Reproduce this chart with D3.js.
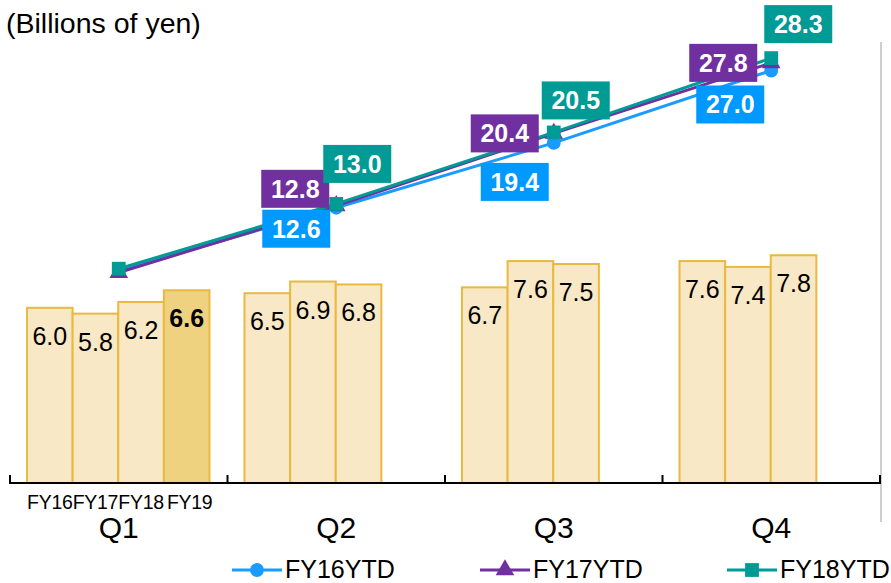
<!DOCTYPE html>
<html>
<head>
<meta charset="utf-8">
<script src="https://cdn.jsdelivr.net/npm/d3@7"></script>
<style>
  body { margin: 0; background: #fff; }
  svg { display: block; font-family: "Liberation Sans", Arial, sans-serif; }
</style>
</head>
<body>
<div id="chart"></div>
<script>
// categories
var quarters = ["Q1", "Q2", "Q3", "Q4"];
var years = ["FY16", "FY17", "FY18", "FY19"];

// quarterly values (bars), billions of yen
var fy16 = [6.0, 6.5, 6.7, 7.6];
var fy17 = [5.8, 6.9, 7.6, 7.4];
var fy18 = [6.2, 6.8, 7.5, 7.8];
var fy19 = [6.6];

// year to date values (lines)
var fy16ytd = [6.0, 12.6, 19.4, 27.0];
var fy17ytd = [5.8, 12.8, 20.4, 27.8];
var fy18ytd = [6.2, 13.0, 20.5, 28.3];

var W = 891, H = 583;
var svg = d3.select("#chart").append("svg")
  .attr("width", W).attr("height", H);

var x = d3.scaleBand().domain(quarters).range([10, 880]);
var xIn = d3.scaleBand().domain(years).range([17, 199.5]);
var yBar = d3.scaleLinear().domain([0, 10]).range([483, 191]);
var yLine = d3.scaleLinear().domain([0, 30]).range([327.8, 41.9]);

var barSeries = [fy16, fy17, fy18, fy19];
var bars = [];
barSeries.forEach(function(vals, i){
  vals.forEach(function(v, q){
    bars.push({year: years[i], q: quarters[q], v: v});
  });
});

// title
svg.append("text").attr("x", 6).attr("y", 33)
  .attr("font-size", 28.5).attr("fill", "#000")
  .text("(Billions of yen)");

// gray right border line
svg.append("line")
  .attr("x1", 881).attr("x2", 881).attr("y1", 42).attr("y2", 522)
  .attr("stroke", "#bfbfbf").attr("stroke-width", 1.5);

// bars
var barG = svg.append("g");
barG.selectAll("rect").data(bars).enter().append("rect")
  .attr("x", function(d){ return x(d.q) + xIn(d.year); })
  .attr("y", function(d){ return yBar(d.v); })
  .attr("width", xIn.bandwidth())
  .attr("height", function(d){ return yBar(0) - yBar(d.v); })
  .attr("fill", function(d){ return d.year === "FY19" ? "#efd27f" : "#f8e8c6"; })
  .attr("stroke", "#e9b940").attr("stroke-width", 2);

barG.selectAll("text").data(bars).enter().append("text")
  .attr("x", function(d){ return x(d.q) + xIn(d.year) + xIn.bandwidth()/2; })
  .attr("y", function(d){ return yBar(d.v) + 37; })
  .attr("text-anchor", "middle")
  .attr("font-size", 25)
  .attr("font-weight", function(d){ return d.year === "FY19" ? "bold" : "normal"; })
  .attr("fill", "#000")
  .text(function(d){ return d.v.toFixed(1); });

// axis
var axis = svg.append("g");
axis.append("line").attr("x1", 9).attr("x2", 881).attr("y1", 483).attr("y2", 483)
  .attr("stroke", "#000").attr("stroke-width", 2);
var tickXs = quarters.map(function(q){ return x(q); }).concat([x.range()[1]]);
axis.selectAll(".tick").data(tickXs).enter().append("line")
  .attr("x1", function(d){ return d; }).attr("x2", function(d){ return d; })
  .attr("y1", 475).attr("y2", 483)
  .attr("stroke", "#000").attr("stroke-width", 2);

axis.selectAll(".fy").data(years).enter().append("text")
  .attr("x", function(d){ return x("Q1") + xIn(d) + xIn.bandwidth()/2 + (d === "FY19" ? 3 : 0); })
  .attr("y", 509)
  .attr("text-anchor", "middle").attr("font-size", 19.5)
  .attr("letter-spacing", -0.3)
  .text(function(d){ return d; });

axis.selectAll(".q").data(quarters).enter().append("text")
  .attr("x", function(d){ return x(d) + x.bandwidth()/2; })
  .attr("y", 538)
  .attr("text-anchor", "middle").attr("font-size", 30)
  .text(function(d){ return d; });

// lines
var lineSeries = [
  {name: "FY16YTD", vals: fy16ytd, color: "#1a9bff", box: "#0099ff", marker: "circle",
   off: [[0,0], [-40, 21], [-39, 39], [-41, 34]]},
  {name: "FY17YTD", vals: fy17ytd, color: "#7030a0", box: "#7030a0", marker: "triangle",
   off: [[0,0], [-41, -17], [-49, 0], [-48, 0]]},
  {name: "FY18YTD", vals: fy18ytd, color: "#009b95", box: "#009b95", marker: "square",
   off: [[0,0], [21, -40], [22, -32], [27, -34]]}
];

var cx = function(i){ return x(quarters[i]) + x.bandwidth()/2; };
var line = d3.line()
  .x(function(d, i){ return cx(i); })
  .y(function(d){ return yLine(d); });

var symbolFor = function(m){
  if (m === "circle") return d3.symbol().type(d3.symbolCircle).size(150);
  if (m === "triangle") return d3.symbol().type(d3.symbolTriangle).size(150);
  return d3.symbol().type(d3.symbolSquare).size(190);
};

lineSeries.forEach(function(s){
  var g = svg.append("g");
  g.append("path").datum(s.vals)
    .attr("d", line).attr("fill", "none")
    .attr("stroke", s.color).attr("stroke-width", 3);
  g.selectAll("path.m").data(s.vals).enter().append("path")
    .attr("class", "m")
    .attr("d", symbolFor(s.marker)())
    .attr("transform", function(d, i){ return "translate(" + cx(i) + "," + yLine(d) + ")"; })
    .attr("fill", s.color);
});

// data label boxes (Q2-Q4)
lineSeries.forEach(function(s){
  var g = svg.append("g");
  s.vals.forEach(function(v, i){
    if (i === 0) return;
    var px = cx(i) + s.off[i][0], py = yLine(v) + s.off[i][1];
    g.append("rect")
      .attr("x", px - 34).attr("y", py - 19)
      .attr("width", 68).attr("height", 38)
      .attr("fill", s.box);
    g.append("text")
      .attr("x", px).attr("y", py + 9)
      .attr("text-anchor", "middle")
      .attr("font-size", 25).attr("font-weight", "bold")
      .attr("fill", "#fff")
      .text(v.toFixed(1));
  });
});

// legend
var legX = [232, 480, 727];
var leg = svg.append("g");
lineSeries.forEach(function(s, i){
  var lx = legX[i];
  leg.append("line")
    .attr("x1", lx).attr("x2", lx + 50).attr("y1", 570).attr("y2", 570)
    .attr("stroke", s.color).attr("stroke-width", 3);
  leg.append("path")
    .attr("d", symbolFor(s.marker)())
    .attr("transform", "translate(" + (lx + 25) + ",570)")
    .attr("fill", s.color);
  leg.append("text")
    .attr("x", lx + 53).attr("y", 578)
    .attr("font-size", 25)
    .text(s.name);
});
</script>
</body>
</html>
